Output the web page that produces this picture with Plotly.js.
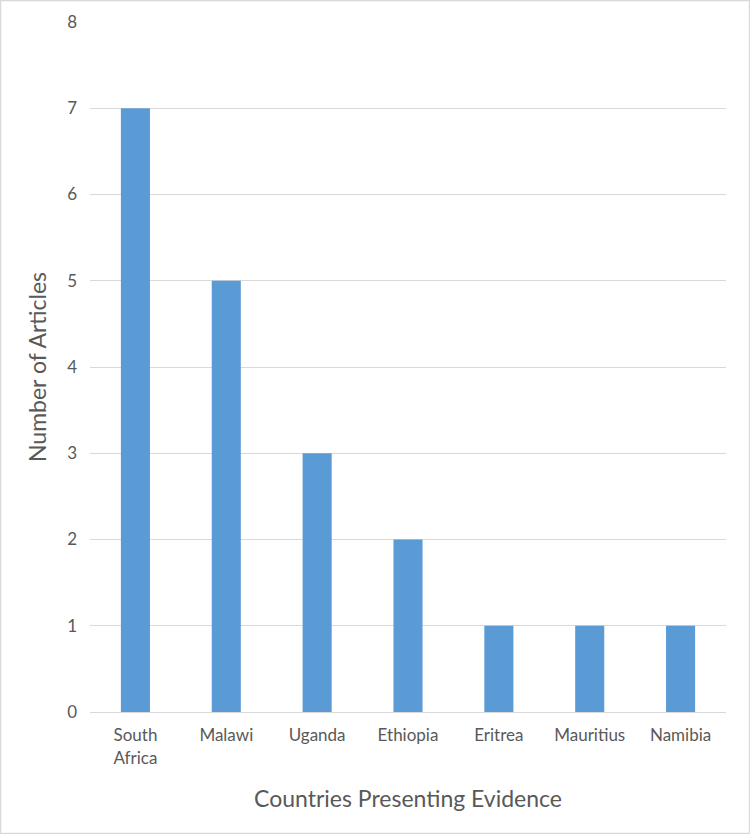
<!DOCTYPE html>
<html>
<head>
<meta charset="utf-8">
<script src="https://cdn.plot.ly/plotly-3.0.1.min.js"></script>
<style>
  html, body { margin: 0; padding: 0; background: #fff; }
  #chart { width: 750px; height: 834px; }
</style>
</head>
<body>
<div id="chart"></div>
<script>
// Countries presenting evidence — number of articles per country
const countries = ['South<br>Africa', 'Malawi', 'Uganda', 'Ethiopia', 'Eritrea', 'Mauritius', 'Namibia'];
const articles  = [7, 5, 3, 2, 1, 1, 1];
const yTicks    = [0, 1, 2, 3, 4, 5, 6, 7, 8];

const FONT  = 'Lato, "Open Sans", "Noto Sans", sans-serif';
const TEXT  = '#595959';
const GRID  = '#d9d9d9';
const BLUE  = '#5b9bd5';

const W = 750, H = 834;
const margin = { l: 90, r: 24, t: 22, b: 122 };

// outer frame, drawn in paper units so it reaches the figure edges
const pw = W - margin.l - margin.r;
const ph = H - margin.t - margin.b;
const frame = {
  type: 'rect', xref: 'paper', yref: 'paper',
  x0: (-margin.l + 0.5) / pw, x1: 1 + (margin.r - 0.5) / pw,
  y0: (-margin.b + 0.5) / ph, y1: 1 + (margin.t - 0.5) / ph,
  line: { color: GRID, width: 1.5 },
  fillcolor: 'rgba(0,0,0,0)',
  layer: 'below',
};

const trace = {
  type: 'bar',
  x: countries,
  y: articles,
  marker: { color: BLUE },
  hoverinfo: 'x+y',
};

const layout = {
  width: W,
  height: H,
  margin: margin,
  paper_bgcolor: '#ffffff',
  plot_bgcolor: '#ffffff',
  font: { family: FONT, color: TEXT, size: 17 },
  bargap: 0.68,
  showlegend: false,
  xaxis: {
    type: 'category',
    showgrid: false,
    showline: true,
    linecolor: GRID,
    linewidth: 1,
    ticks: '',
    ticklabelstandoff: 8,
    tickfont: { size: 17, color: TEXT },
    title: { text: 'Countries Presenting Evidence', font: { size: 23, color: TEXT }, standoff: 24 },
  },
  yaxis: {
    range: [0, 8],
    tickvals: yTicks,
    showgrid: true,
    gridcolor: GRID,
    gridwidth: 1,
    zeroline: false,
    showline: false,
    ticks: '',
    ticklabelstandoff: 12,
    tickfont: { size: 17, color: TEXT },
    title: { text: 'Number of Articles', font: { size: 23, color: TEXT }, standoff: 14 },
  },
  shapes: [frame],
};

Plotly.newPlot('chart', [trace], layout, { displayModeBar: false, staticPlot: true });
</script>
</body>
</html>
